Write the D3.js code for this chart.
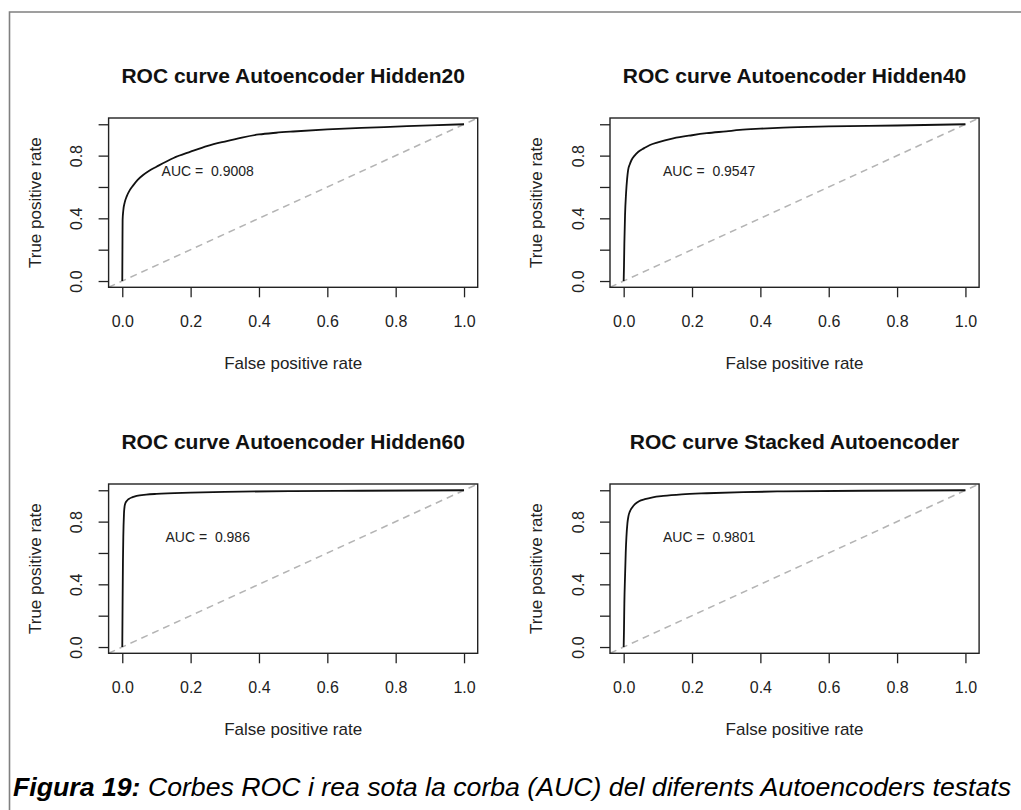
<!DOCTYPE html>
<html>
<head>
<meta charset="utf-8">
<script src="https://cdn.jsdelivr.net/npm/d3@7"></script>
<style>
    html, body { margin: 0; padding: 0; background: #fff; }
    svg { display: block; font-family: "Liberation Sans", Arial, Helvetica, sans-serif; }
</style>
</head>
<body>
<div id="chart"></div>
<script>
// ROC points (false positive rate, true positive rate)
const rocHidden20 = [
    [0, 0], [0.0005, 0.2], [0.001, 0.39], [0.003, 0.45], [0.007, 0.5], [0.013, 0.54],
    [0.022, 0.58], [0.032, 0.61], [0.045, 0.645], [0.061, 0.676], [0.08, 0.705],
    [0.1, 0.729], [0.15, 0.785], [0.2, 0.825], [0.25, 0.862], [0.3, 0.89],
    [0.35, 0.915], [0.4, 0.935], [0.45, 0.946], [0.5, 0.954], [0.6, 0.967],
    [0.7, 0.977], [0.8, 0.985], [0.9, 0.993], [1, 1]
]
const rocHidden40 = [
    [0, 0], [0.001, 0.1], [0.002, 0.24], [0.004, 0.42], [0.007, 0.56], [0.01, 0.65],
    [0.013, 0.708], [0.018, 0.745], [0.023, 0.772], [0.032, 0.8], [0.043, 0.825],
    [0.06, 0.848], [0.077, 0.868], [0.1, 0.885], [0.145, 0.91], [0.2, 0.93],
    [0.243, 0.943], [0.3, 0.955], [0.34, 0.964], [0.4, 0.972], [0.467, 0.979],
    [0.6, 0.986], [0.8, 0.992], [1, 1]
]
const rocHidden60 = [
    [0, 0], [0.001, 0.3], [0.002, 0.55], [0.003, 0.7], [0.005, 0.85], [0.007, 0.9],
    [0.009, 0.917], [0.013, 0.932], [0.018, 0.943], [0.03, 0.956], [0.042, 0.964],
    [0.07, 0.972], [0.1, 0.977], [0.2, 0.985], [0.3, 0.99], [0.5, 0.995],
    [0.7, 0.997], [1, 1]
]
const rocStacked = [
    [0, 0], [0.001, 0.12], [0.002, 0.28], [0.004, 0.45], [0.006, 0.6], [0.008, 0.7],
    [0.011, 0.79], [0.014, 0.835], [0.018, 0.864], [0.025, 0.89], [0.033, 0.911],
    [0.045, 0.93], [0.062, 0.943], [0.085, 0.955], [0.116, 0.964], [0.17, 0.974],
    [0.243, 0.981], [0.35, 0.988], [0.467, 0.993], [0.7, 0.997], [1, 1]
]

const titles = [
    'ROC curve Autoencoder Hidden20',
    'ROC curve Autoencoder Hidden40',
    'ROC curve Autoencoder Hidden60',
    'ROC curve Stacked Autoencoder'
]
const aucValues = ['0.9008', '0.9547', '0.986', '0.9801']
const curves = [rocHidden20, rocHidden40, rocHidden60, rocStacked]

const xTicks = [0, 0.2, 0.4, 0.6, 0.8, 1.0]
const yTicks = [0, 0.2, 0.4, 0.6, 0.8, 1.0]
const yTickLabels = ['0.0', '', '0.4', '', '0.8', '']

const captionBold = 'Figura 19:'
const captionText = ' Corbes ROC i rea sota la corba (AUC) del diferents Autoencoders testats'

const fullWidth = 1021, fullHeight = 810
const font = '"Liberation Sans", Arial, Helvetica, sans-serif'

let svg = d3.select('#chart')
    .append('svg')
    .attr('width', fullWidth)
    .attr('height', fullHeight)

/** Draws the grey frame around the figure (top and left edges only visible)
 *
 * @param {*} g
 */
function appendFrame(g) {
    g.append('path')
        .attr('d', `M9.5,${fullHeight} V12 H${fullWidth}`)
        .attr('fill', 'none')
        .attr('stroke', '#808080')
        .attr('stroke-width', 1.6)
}

/** Draws one ROC panel in the R base-graphics style
 *
 * @param {*} g
 * @param {*} i panel index
 * @param {*} ox horizontal offset
 * @param {*} oy vertical offset
 */
function appendPanel(g, i, ox, oy) {

    let box = { left: 108.6 + ox, right: 477.7 + ox, top: 118 + oy, bottom: 287.3 + oy }

    // R pads the range by 4% on each side
    let x = d3.scaleLinear().domain([-0.04, 1.04]).range([box.left, box.right])
    let y = d3.scaleLinear().domain([-0.04, 1.04]).range([box.bottom, box.top])

    let panel = g.append('g').attr('class', 'panel')

    // chance diagonal, spans the whole plot region like abline()
    panel.append('line')
        .attr('x1', x(-0.04)).attr('y1', y(-0.04))
        .attr('x2', x(1.04)).attr('y2', y(1.04))
        .attr('stroke', '#b4b4b4')
        .attr('stroke-width', 1.5)
        .attr('stroke-dasharray', '7,5')

    let line = d3.line()
        .x(d => x(d[0]))
        .y(d => y(d[1]))
        .curve(d3.curveMonotoneX)

    panel.append('path')
        .datum(curves[i])
        .attr('d', line)
        .attr('fill', 'none')
        .attr('stroke', '#111')
        .attr('stroke-width', 1.8)

    panel.append('rect')
        .attr('x', box.left)
        .attr('y', box.top)
        .attr('width', box.right - box.left)
        .attr('height', box.bottom - box.top)
        .attr('fill', 'none')
        .attr('stroke', '#222')
        .attr('stroke-width', 1.4)

    // x axis
    panel.append('g')
        .attr('transform', 'translate(0,' + box.bottom + ')')
        .call(d3.axisBottom(x).tickValues(xTicks).tickSize(10).tickFormat(d3.format('.1f')))
        .call(a => a.select('.domain').remove())
        .call(a => a.selectAll('line').attr('stroke', '#222').attr('stroke-width', 1.3))
        .call(a => a.selectAll('text')
            .attr('y', 39.4)
            .attr('dy', null)
            .attr('fill', '#222')
            .attr('font-family', font)
            .attr('font-size', 16))

    // y axis, labels rotated like R's las = 0
    panel.append('g')
        .attr('transform', 'translate(' + box.left + ',0)')
        .call(d3.axisLeft(y).tickValues(yTicks).tickSize(10).tickFormat((d, k) => yTickLabels[k]))
        .call(a => a.select('.domain').remove())
        .call(a => a.selectAll('line').attr('stroke', '#222').attr('stroke-width', 1.3))
        .call(a => a.selectAll('text')
            .attr('x', null)
            .attr('dy', null)
            .attr('transform', 'translate(-26.3,0) rotate(-90)')
            .attr('text-anchor', 'middle')
            .attr('fill', '#222')
            .attr('font-family', font)
            .attr('font-size', 16))

    let cx = (box.left + box.right) / 2,
        cy = (box.top + box.bottom) / 2

    panel.append('text')
        .attr('x', cx)
        .attr('y', box.top - 34.7)
        .attr('text-anchor', 'middle')
        .attr('font-size', 21)
        .attr('font-weight', 'bold')
        .attr('fill', '#111')
        .text(titles[i])

    panel.append('text')
        .attr('x', cx)
        .attr('y', box.bottom + 81.7)
        .attr('text-anchor', 'middle')
        .attr('font-size', 17)
        .attr('fill', '#222')
        .text('False positive rate')

    panel.append('text')
        .attr('transform', 'translate(' + (box.left - 68) + ',' + cy + ') rotate(-90)')
        .attr('text-anchor', 'middle')
        .attr('font-size', 17)
        .attr('fill', '#222')
        .text('True positive rate')

    panel.append('text')
        .attr('x', x(0.25))
        .attr('y', y(0.7) + 5)
        .attr('text-anchor', 'middle')
        .attr('font-size', 14)
        .attr('fill', '#222')
        .attr('xml:space', 'preserve')
        .style('white-space', 'pre')
        .text('AUC =  ' + aucValues[i])
}

/** Adds the figure caption and squeezes it to the width seen in the picture
 *
 * @param {*} g
 */
function appendCaption(g) {
    let startX = 13, endX = 1011.5, baseline = 796

    let cap = g.append('text')
        .attr('x', 0)
        .attr('y', 0)
        .attr('font-size', 25)
        .attr('font-style', 'italic')
        .attr('fill', '#000')
        .style('white-space', 'pre')

    cap.append('tspan').attr('font-weight', 'bold').text(captionBold)
    cap.append('tspan').text(captionText)

    let w = cap.node().getComputedTextLength()
    let sx = (endX - startX) / w
    cap.attr('transform', 'translate(' + startX + ',' + baseline + ') scale(' + sx + ',1)')
}

appendFrame(svg)
titles.forEach((t, i) => appendPanel(svg, i, (i % 2) * 501.4, Math.floor(i / 2) * 366))
appendCaption(svg)
</script>
</body>
</html>
